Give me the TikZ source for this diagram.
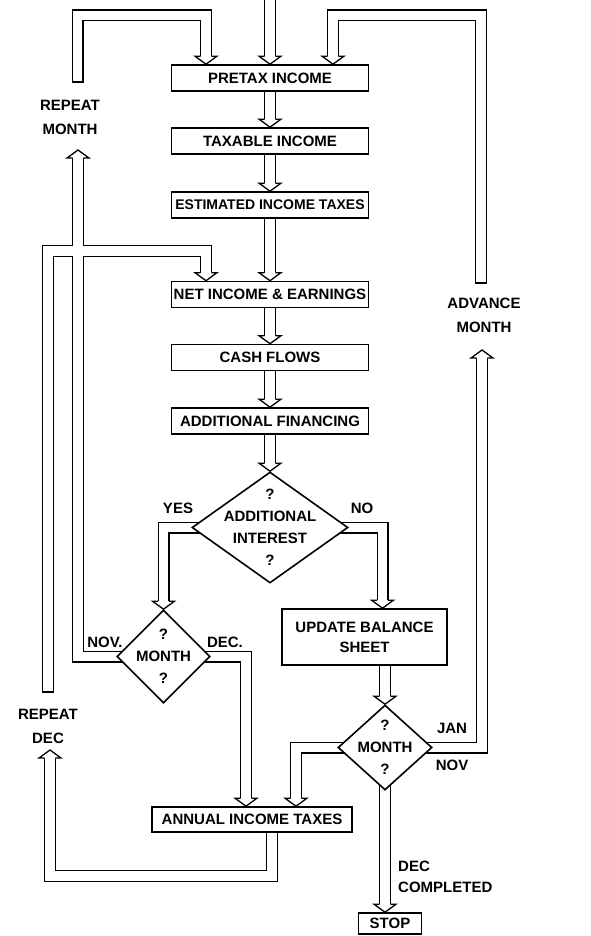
\documentclass[tikz,border=0pt]{standalone}
\usepackage{fontspec}
\setmainfont{Liberation Sans}
\usetikzlibrary{shapes.geometric}
\pgfdeclarelayer{bg}
\pgfsetlayers{bg,main}

\tikzset{
    box/.style={draw, fill=white, line width=1.6pt, minimum width=197pt, minimum height=26pt,
        inner sep=0pt, font=\bfseries\fontsize{15}{20}\selectfont},
    dia/.style={diamond, draw, fill=white, line width=1.6pt, inner sep=0pt},
    lbl/.style={font=\bfseries\fontsize{15}{24}\selectfont, align=center, inner sep=0pt},
    shaft/.style={double, double distance=9.4pt, line width=1.3pt, shorten >=8pt},
    bhead/.pic={\filldraw[fill=white, line width=1.3pt] (-5.35,-8) -- (-11,-8) -- (0,0) -- (11,-8) -- (5.35,-8);},
    bcap/.pic={\draw[line width=1.3pt] (-6,0) -- (6,0);}
}

\begin{document}
\begin{tikzpicture}[x=1pt, y=-1pt]
    \useasboundingbox (0,0) rectangle (591,936);

    % main column
    \node[box] (pretax) at (270,78) {PRETAX INCOME};
    \node[box] (taxable) at (270,141) {TAXABLE INCOME};
    \node[box, font=\bfseries\fontsize{14}{20}\selectfont] (estim) at (270,205) {ESTIMATED INCOME TAXES};
    \node[box] (netinc) at (270,294.5) {NET INCOME \& EARNINGS};
    \node[box] (cash) at (270,357.5) {CASH FLOWS};
    \node[box] (addfin) at (270,421) {ADDITIONAL FINANCING};
    \node[dia, minimum width=156pt, minimum height=111pt] (intr) at (270,527.5) {};
    \node[lbl, font=\bfseries\fontsize{15}{22}\selectfont] (intrtxt) at (intr) {?\\ADDITIONAL\\INTEREST\\?};

    % month tests
    \node[dia, minimum width=93pt, minimum height=93pt] (mleft) at (163.5,656.5) {};
    \node[lbl, font=\bfseries\fontsize{15}{22}\selectfont] (mlefttxt) at (mleft) {?\\MONTH\\?};
    \node[box, minimum width=165pt, minimum height=56pt, align=center] (update) at (364.5,637) {UPDATE BALANCE\\SHEET};
    \node[dia, minimum width=94pt, minimum height=85pt] (mright) at (385,747.5) {};
    \node[lbl, font=\bfseries\fontsize{15}{22}\selectfont] (mrighttxt) at (mright) {?\\MONTH\\?};
    \node[box, minimum width=200pt, minimum height=25pt] (annual) at (252,819.5) {ANNUAL INCOME TAXES};
    \node[box, minimum width=63pt, minimum height=21pt] (stop) at (390,923.5) {STOP};

    % labels
    \node[lbl] (rmonth) at (70,117.5) {REPEAT\\MONTH};
    \node[lbl] (admonth) at (484,315.5) {ADVANCE\\MONTH};
    \node[lbl] (rdec) at (48,726) {REPEAT\\DEC};
    \node[lbl] (yes) at (178,508) {YES};
    \node[lbl] (no) at (362,508) {NO};
    \node[lbl] (nov) at (105,642) {NOV.};
    \node[lbl] (dec) at (225,642) {DEC.};
    \node[lbl] (jan) at (452,728) {JAN};
    \node[lbl] (novb) at (452,765) {NOV};
    \node[lbl, anchor=west, align=left, font=\bfseries\fontsize{15}{21}\selectfont] (decdone) at (398,877) {DEC\\COMPLETED};

    \coordinate (top) at (270,0);
    \coordinate (rmst) at (77.5,82);
    \coordinate (rmtop) at (77.5,15.5);
    \coordinate (amst) at (481,283);
    \coordinate (amtop) at (481,15.5);
    \coordinate (rmtip) at (78,150);
    \coordinate (rmbase) at (78,158);
    \coordinate (amtip) at (482,350);
    \coordinate (rdtip) at (50,750);
    \coordinate (rdbot) at (50,876);
    \coordinate (rdst) at (48,692);
    \coordinate (rdtop) at (48,251);

    \begin{pgfonlayer}{bg}
        \draw[shaft] (top) -- (pretax.north);
        \draw[shaft] (pretax.south) -- (taxable.north);
        \draw[shaft] (taxable.south) -- (estim.north);
        \draw[shaft] (estim.south) -- (netinc.north);
        \draw[shaft] (netinc.south) -- (cash.north);
        \draw[shaft] (cash.south) -- (addfin.north);
        \draw[shaft] (addfin.south) -- (intr.north);

        % yes / no
        \draw[shaft] (intr.center) -| (mleft.north);
        \draw[shaft] (intr.center) -| ([xshift=18pt]update.north);
        \draw[shaft] (mright.north |- update.south) -- (mright.north);
        \draw[shaft] (mright.center) -- (mright.center |- stop.north);
        \draw[shaft] (mleft.center) -| ([xshift=-6pt]annual.north);
        \draw[shaft] (mright.center) -| ([xshift=44pt]annual.north);
        \draw[shaft] (mright.center) -| (amtip);

        % loops back to the top
        \draw[shaft] (rmst) -- (rmtop) -| ([xshift=-64pt]pretax.north);
        \draw[shaft] (amst) -- (amtop) -| ([xshift=63pt]pretax.north);
        \draw[shaft] ([xshift=20pt]annual.south) |- (rdbot) -- (rdtip);
        % one path, so the crossing stays open
        \draw[shaft] (mleft.center) -| (rmbase) (rdst) -- (rdtop) -| ([xshift=-64pt]netinc.north);
    \end{pgfonlayer}

    % arrow heads
    \pic at (pretax.north) {bhead};
    \pic at ([xshift=-64pt]pretax.north) {bhead};
    \pic at ([xshift=63pt]pretax.north) {bhead};
    \pic at (taxable.north) {bhead};
    \pic at (estim.north) {bhead};
    \pic at (netinc.north) {bhead};
    \pic at ([xshift=-64pt]netinc.north) {bhead};
    \pic at (cash.north) {bhead};
    \pic at (addfin.north) {bhead};
    \pic at (intr.north) {bhead};
    \pic at (mleft.north) {bhead};
    \pic at ([xshift=18pt]update.north) {bhead};
    \pic at (mright.north) {bhead};
    \pic at (mright.center |- stop.north) {bhead};
    \pic at ([xshift=-6pt]annual.north) {bhead};
    \pic at ([xshift=44pt]annual.north) {bhead};
    \pic[rotate=180] at (rmtip) {bhead};
    \pic[rotate=180] at (amtip) {bhead};
    \pic[rotate=180] at (rdtip) {bhead};

    % closed ends
    \pic at (rmst) {bcap};
    \pic at (amst) {bcap};
    \pic at (rdst) {bcap};
\end{tikzpicture}
\end{document}
